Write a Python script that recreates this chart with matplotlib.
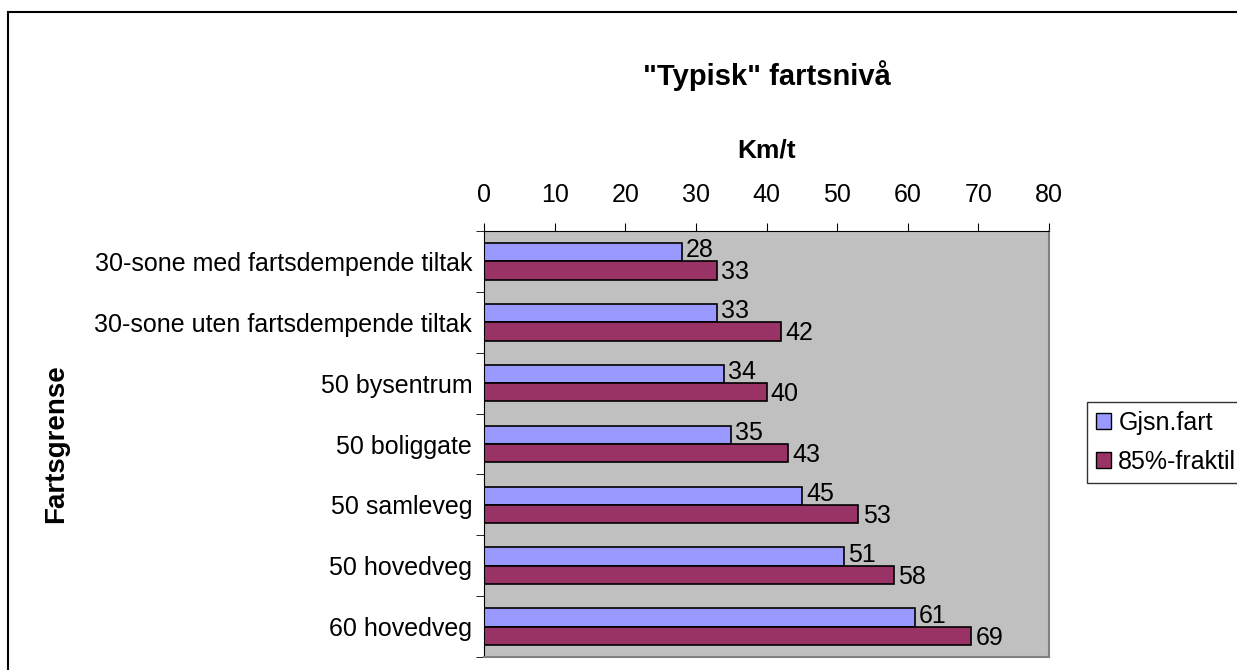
import numpy as np
import matplotlib.pyplot as plt
from matplotlib.patches import Rectangle, Patch

plt.rcParams["font.family"] = ["Liberation Sans", "DejaVu Sans"]

# -------------------------
# Data
# -------------------------
categories = [
    "30-sone med fartsdempende tiltak",
    "30-sone uten fartsdempende tiltak",
    "50 bysentrum",
    "50 boliggate",
    "50 samleveg",
    "50 hovedveg",
    "60 hovedveg",
]
gjsn_fart = [28, 33, 34, 35, 45, 51, 61]
fraktil_85 = [33, 42, 40, 43, 53, 58, 69]
series_names = ["Gjsn.fart", "85%-fraktil"]
x_ticks = [0, 10, 20, 30, 40, 50, 60, 70, 80]

blue = "#9999FF"
maroon = "#993366"
FS = 18

fig = plt.figure(figsize=(12.37, 6.70), dpi=100)
ax = fig.add_axes([0.3913, 0.0194, 0.4568, 0.6358])
ax.set_facecolor("#C0C0C0")

y = np.arange(len(categories))
h = 0.30
ax.barh(y - h / 2, gjsn_fart, height=h, color=blue, edgecolor="black", linewidth=1.2)
ax.barh(y + h / 2, fraktil_85, height=h, color=maroon, edgecolor="black", linewidth=1.2)

for i, (a, b) in enumerate(zip(gjsn_fart, fraktil_85)):
    ax.text(a + 0.6, i - h / 2 - 0.03, str(a), va="center", ha="left", fontsize=FS)
    ax.text(b + 0.6, i + h / 2 + 0.03, str(b), va="center", ha="left", fontsize=FS)

ax.set_xlim(0, 80)
ax.set_ylim(len(categories) - 0.5, -0.5)
ax.xaxis.tick_top()
ax.set_xticks(x_ticks)
ax.tick_params(axis="x", direction="out", length=6, labelsize=FS, pad=11)
ax.set_xlabel("Km/t", fontsize=19, fontweight="bold", labelpad=19)
ax.xaxis.set_label_position("top")

# category labels centred, ticks on boundaries
ax.set_yticks(y)
ax.set_yticklabels(categories, fontsize=FS)
ax.tick_params(axis="y", length=0, pad=8.5)
ax.set_yticks(np.arange(-0.5, len(categories) + 0.5, 1), minor=True)
ax.tick_params(axis="y", which="minor", direction="out", length=6)
ax.yaxis.set_label_coords(-0.735, 0.5)
ax.set_ylabel("Fartsgrense", fontsize=20, fontweight="bold")

for s in ["top", "left"]:
    ax.spines[s].set_color("black")
for s in ["right", "bottom"]:
    ax.spines[s].set_color("#808080")
    ax.spines[s].set_linewidth(1.5)

fig.text(767 / 1237, 1 - 76 / 670, '"Typisk" fartsnivå', ha="center", va="center",
         fontsize=21, fontweight="bold")

handles = [Patch(facecolor=blue, edgecolor="black"), Patch(facecolor=maroon, edgecolor="black")]
leg = fig.legend(handles, series_names, loc="upper left",
                 bbox_to_anchor=(1087 / 1237, 1 - 402 / 670), fontsize=FS,
                 frameon=True, fancybox=False, edgecolor="black",
                 handlelength=0.6, handleheight=0.6, handletextpad=0.3,
                 borderpad=0.35, labelspacing=0.6, borderaxespad=0)
leg.get_frame().set_linewidth(1.0)

# outer chart frame
fig.patches.append(Rectangle((8 / 1237, -0.05), 1.1, 1 - 12 / 670 + 0.05,
                             transform=fig.transFigure, fill=False,
                             edgecolor="black", linewidth=1.5, clip_on=False))

fig.savefig("out.png", dpi=100)
